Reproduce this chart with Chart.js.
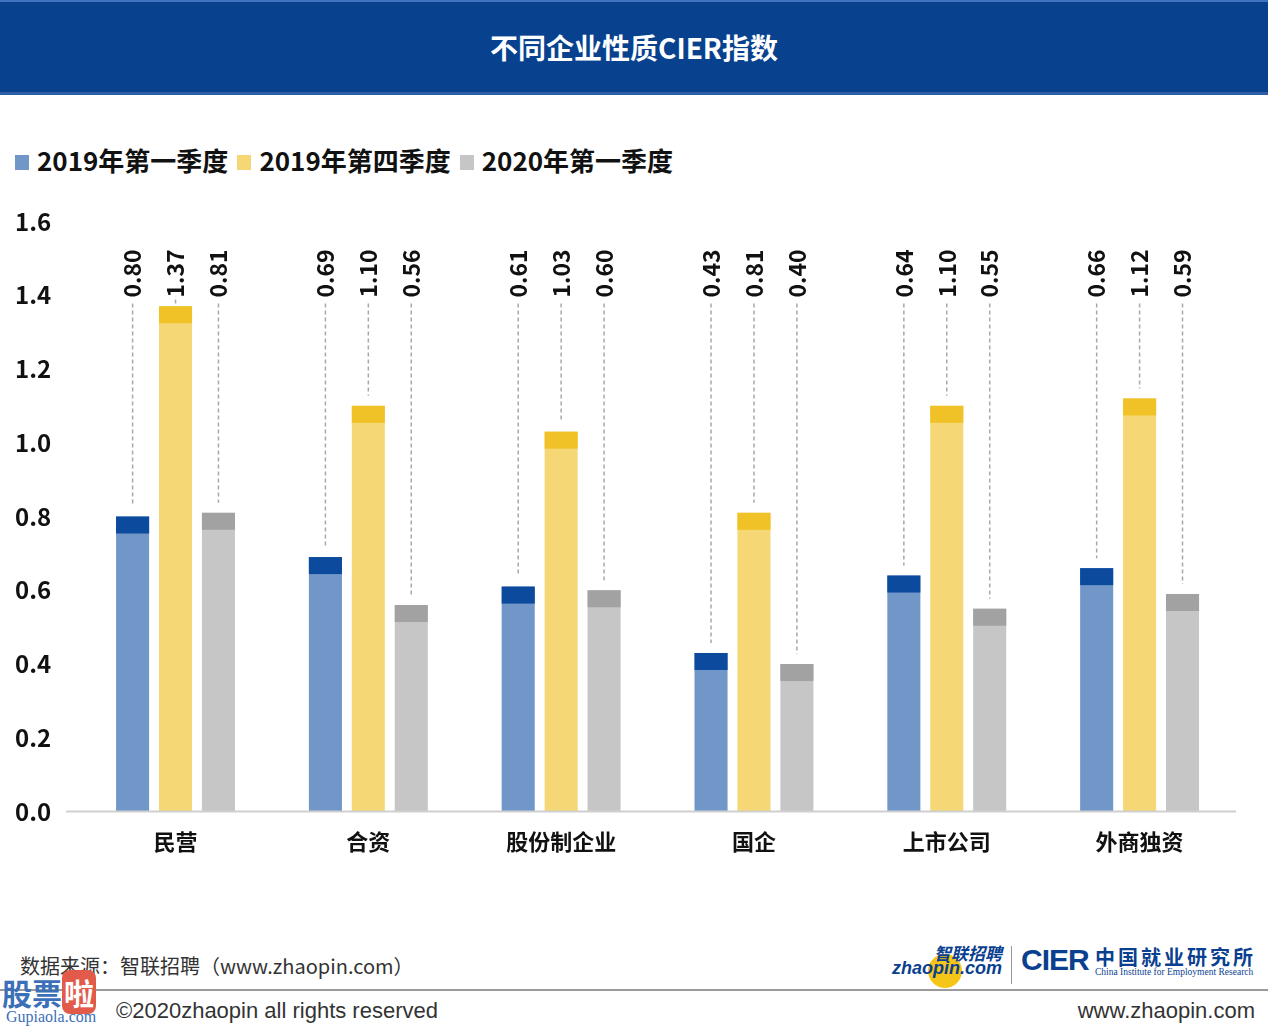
<!DOCTYPE html>
<html>
<head>
<meta charset="utf-8">
<script src="https://cdn.jsdelivr.net/npm/chart.js@4"></script>
<style>
    body { margin: 0; width: 1268px; height: 1030px; background: #fff; position: relative; overflow: hidden;
           font-family: "Noto Sans CJK SC", "Noto Sans", sans-serif; }
    .title-bar { position: absolute; left: 0; top: 0; width: 1268px; height: 95px; background: #08428f;
                 border-top: 2px solid #3f73c0; border-bottom: 3px solid #2d5fa8; box-sizing: border-box;
                 color: #fff; font-weight: bold; font-size: 28px; text-align: center; line-height: 90px; }
    .legend { position: absolute; left: 15px; top: 141px; display: flex; align-items: center; font-weight: bold;
              font-size: 26px; color: #111; }
    .legend span.box { display: inline-block; width: 14px; height: 15px; margin-right: 8px; margin-top: 6px; }
    .legend span.item { margin-right: 9px; display: flex; align-items: center; }
    #wrap { position: absolute; left: 0; top: 193px; width: 1268px; height: 686px; }
    .footer-src { position: absolute; left: 20px; top: 951px; font-size: 20px; color: #333; }
    .footer-line { position: absolute; left: 0; top: 989px; width: 1268px; height: 2px; background: #9a9a9a; }
    .footer-copy { position: absolute; left: 116px; top: 998px; font-size: 22px; color: #333; font-family: "Liberation Sans", sans-serif; }
    .footer-www { position: absolute; right: 13px; top: 998px; font-size: 22px; color: #333; font-family: "Liberation Sans", sans-serif; }
    .logo-zp { position: absolute; left: 892px; top: 944px; width: 110px; height: 42px; }
    .logo-zp .dot { position: absolute; left: 36px; top: 10px; width: 34px; height: 34px; border-radius: 50%; background: #f5c518; }
    .logo-zp .cn { position: absolute; left: 42px; top: -4px; font-size: 17px; font-weight: bold; color: #0b3f8f; font-style: italic; }
    .logo-zp .en { position: absolute; left: 0; top: 14px; font-size: 18px; font-weight: bold; color: #0b3f8f; font-style: italic; font-family: "Liberation Sans", sans-serif; }
    .logo-sep { position: absolute; left: 1011px; top: 946px; width: 1px; height: 38px; background: #999; }
    .logo-cier { position: absolute; left: 1021px; top: 943px; font-size: 30px; font-weight: bold; color: #0b3f8f; font-family: "Liberation Sans", sans-serif; letter-spacing: -1px; }
    .logo-cn { position: absolute; left: 1095px; top: 942px; font-size: 20px; font-weight: bold; color: #0b3f8f; letter-spacing: 3px; }
    .logo-en { position: absolute; left: 1095px; top: 967px; font-size: 9.5px; color: #0b3f8f; font-family: "Liberation Serif", serif; }
    .wm { position: absolute; left: 2px; top: 970px; font-weight: bold; font-size: 30px; color: #3b6fb8; }
    .wm .la { display: inline-block; background: #e25a4a; color: #fff; border-radius: 8px; padding: 0 2px; }
    .wm-en { position: absolute; left: 6px; top: 1008px; font-size: 16px; color: #3b6fb8; font-family: "Liberation Serif", serif; }
</style>
</head>
<body>
<div class="title-bar">不同企业性质CIER指数</div>
<div class="legend" id="legend"></div>
<div id="wrap"><canvas id="cierChart"></canvas></div>

<div class="footer-src">数据来源：智联招聘（www.zhaopin.com）</div>
<div class="logo-zp"><div class="dot"></div><div class="cn">智联招聘</div><div class="en">zhaopin.com</div></div>
<div class="logo-sep"></div>
<div class="logo-cier">CIER</div>
<div class="logo-cn">中国就业研究所</div>
<div class="logo-en">China Institute for Employment Research</div>
<div class="footer-line"></div>
<div class="wm">股票<span class="la">啦</span></div>
<div class="wm-en">Gupiaola.com</div>
<div class="footer-copy">©2020zhaopin all rights reserved</div>
<div class="footer-www">www.zhaopin.com</div>

<script>
// chart data
const categories = ["民营", "合资", "股份制企业", "国企", "上市公司", "外商独资"];
const seriesNames = ["2019年第一季度", "2019年第四季度", "2020年第一季度"];
const q1of2019 = [0.80, 0.69, 0.61, 0.43, 0.64, 0.66];
const q4of2019 = [1.37, 1.10, 1.03, 0.81, 1.10, 1.12];
const q1of2020 = [0.81, 0.56, 0.60, 0.40, 0.55, 0.59];
const yTicks = [0.0, 0.2, 0.4, 0.6, 0.8, 1.0, 1.2, 1.4, 1.6];

const bodyColors = ["#7097c8", "#f5d875", "#c6c6c6"];
const capColors = ["#0c4a9e", "#f0c227", "#a2a2a2"];

// html legend
const legendEl = document.getElementById("legend");
seriesNames.forEach((name, i) => {
    const item = document.createElement("span");
    item.className = "item";
    item.innerHTML = '<span class="box" style="background:' + bodyColors[i] + '"></span>' + name;
    legendEl.appendChild(item);
});

// darker cap on bar tops, dashed leader line and rotated value label
const barDecor = {
    id: "barDecor",
    afterDatasetsDraw(chart) {
        const ctx = chart.ctx;
        const area = chart.chartArea;
        chart.data.datasets.forEach((ds, di) => {
            chart.getDatasetMeta(di).data.forEach((bar, i) => {
                const w = bar.width;
                ctx.save();
                ctx.fillStyle = capColors[di];
                ctx.fillRect(bar.x - w / 2, bar.y, w, 17);

                ctx.strokeStyle = "#a8a8a8";
                ctx.lineWidth = 1.5;
                ctx.setLineDash([4, 3]);
                ctx.beginPath();
                ctx.moveTo(bar.x, area.top + 82);
                ctx.lineTo(bar.x, bar.y - 10);
                ctx.stroke();
                ctx.setLineDash([]);

                ctx.translate(bar.x, area.top + 52);
                ctx.rotate(-Math.PI / 2);
                ctx.fillStyle = "#111";
                ctx.font = "bold 23px 'Noto Sans CJK SC'";
                ctx.textAlign = "center";
                ctx.textBaseline = "middle";
                ctx.fillText(ds.data[i].toFixed(2), 0, 0);
                ctx.restore();
            });
        });
        // base line
        const y0 = chart.scales.y.getPixelForValue(0);
        ctx.save();
        ctx.strokeStyle = "#cfcfcf";
        ctx.lineWidth = 2;
        ctx.beginPath();
        ctx.moveTo(area.left - 13, y0);
        ctx.lineTo(area.right, y0);
        ctx.stroke();
        ctx.restore();
    }
};

const cierCtx = document.getElementById("cierChart");
const cierChart = new Chart(cierCtx, {
    type: "bar",
    data: {
        labels: categories,
        datasets: [q1of2019, q4of2019, q1of2020].map((vals, i) => ({
            label: seriesNames[i],
            data: vals,
            backgroundColor: bodyColors[i],
            borderWidth: 0,
            categoryPercentage: 0.668,
            barPercentage: 0.77
        }))
    },
    options: {
        responsive: true,
        maintainAspectRatio: false,
        animation: false,
        layout: { padding: { left: 15, right: 32, top: 0, bottom: 7 } },
        plugins: {
            legend: { display: false },
            tooltip: { enabled: false }
        },
        scales: {
            x: {
                grid: { display: false, drawTicks: false },
                border: { display: false },
                ticks: {
                    color: "#111",
                    padding: 17,
                    font: { size: 22, weight: "bold", family: "'Noto Sans CJK SC'" }
                }
            },
            y: {
                min: 0,
                max: 1.6,
                afterBuildTicks(axis) {
                    axis.ticks = yTicks.map(v => ({ value: v }));
                },
                grid: { display: false, drawTicks: false },
                border: { display: false },
                ticks: {
                    color: "#111",
                    padding: 14,
                    crossAlign: "far",
                    font: { size: 24, weight: "bold", family: "'Noto Sans CJK SC'" },
                    callback: v => Number(v).toFixed(1)
                }
            }
        }
    },
    plugins: [barDecor]
});
</script>
</body>
</html>
